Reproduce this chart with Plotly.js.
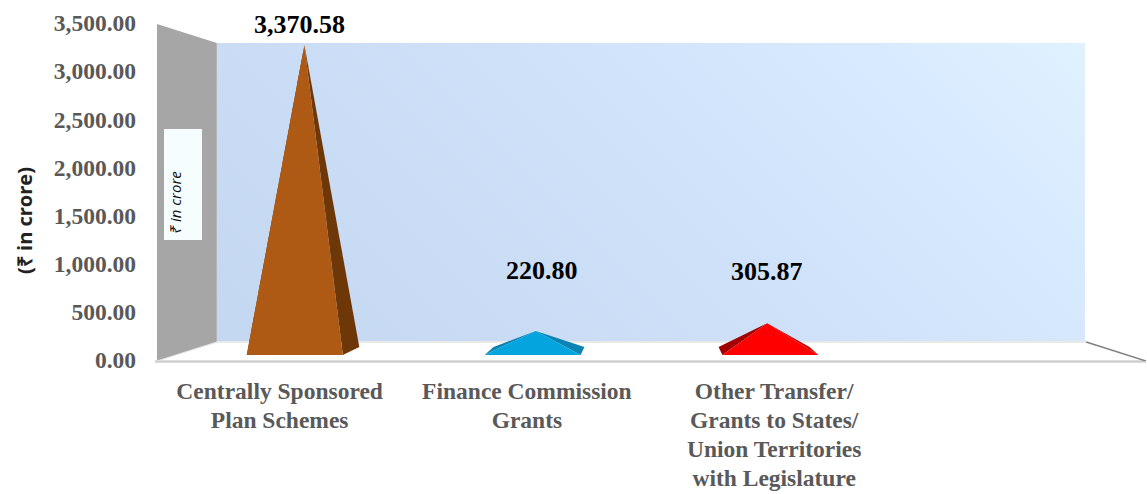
<!DOCTYPE html>
<html><head><meta charset="utf-8">
<script src="https://cdn.plot.ly/plotly-3.0.1.min.js"></script>
<style>html,body{margin:0;padding:0;background:#fff}#c{width:1147px;height:494px}</style>
</head><body><div id="c"></div>
<script>
// ---- data ----
const categories = ['Centrally Sponsored<br>Plan Schemes', 'Finance Commission<br>Grants', 'Other Transfer/<br>Grants to States/<br>Union Territories<br>with Legislature'];
const values = [3370.58, 220.80, 305.87];
const yTicks = [0, 500, 1000, 1500, 2000, 2500, 3000, 3500];
// ---- styles ----
const frontColors = ['#ae5a14', '#04a5df', '#fe0000'];
const leftColors  = ['#6e3708', '#0b84b3', '#a30000'];
const rightColors = ['#6e3708', '#0b84b3', '#c80000'];
const labelOffsetPx = [[-4.5, 21], [6, 60], [-0.5, 52]];

// ---- oblique projection of the 3D box onto the front plane ----
const W = 1147, H = 494, L = 157, R = 1, T = 24, B = 133;
const pxPerX = (W - L - R) / 4, pxPerY = (H - T - B) / 3500;
const SHRINK = 0.121, FLOOR_RISE = 19 / pxPerY, HEIGHT_K = 0.9426, CX = 1.5;
const proj = (u, d, h) => [CX + (u - CX) * (1 - SHRINK * d), d * FLOOR_RISE + h * HEIGHT_K];
const BASE_HALF = 0.202, D_FRONT = 0.316, D_REAR = 0.74, D_APEX = 0.53;

const traces = [];
function face(pts, color, name) {
  traces.push({type: 'scatter', mode: 'lines', x: pts.map(p => p[0]).concat(pts[0][0]), y: pts.map(p => p[1]).concat(pts[0][1]),
    fill: 'toself', fillcolor: color, line: {width: 0, color: color}, hoverinfo: 'skip', showlegend: false, name: name});
}
values.forEach((v, i) => {
  const apex = proj(i, D_APEX, v);
  const fl = proj(i - BASE_HALF, D_FRONT, 0), fr = proj(i + BASE_HALF, D_FRONT, 0);
  const rl = proj(i - BASE_HALF, D_REAR, 0), rr = proj(i + BASE_HALF, D_REAR, 0);
  face([fl, rl, apex], leftColors[i], 'left');
  face([fr, rr, apex], rightColors[i], 'right');
  face([fl, fr, apex], frontColors[i], 'front');
});

// ---- box: walls and floor ----
const lx = -0.5, rx = 3.5;
const toPath = pts => 'M' + pts.map(p => p[0] + ',' + p[1]).join('L') + 'Z';
const blf = proj(lx, 0, 0), blb = proj(lx, 1, 0), tlf = [lx, 3500], tlb = [proj(lx, 1, 0)[0], (H - B - 43) / pxPerY];
const brb = proj(rx, 1, 0), brf = proj(rx, 0, 0);
const paperX = px => (px - L) / (W - L - R), paperY = py => 1 - (py - T) / (H - T - B);
const shapes = [
  {type: 'path', layer: 'below', path: toPath([blf, tlf, tlb, blb]), fillcolor: '#a6a6a6', line: {width: 0}},
  {type: 'line', layer: 'below', x0: blf[0], y0: blf[1], x1: blb[0], y1: blb[1], line: {color: '#e4e4e4', width: 1}},
  {type: 'line', layer: 'below', x0: blb[0], y0: blb[1], x1: brb[0], y1: brb[1], line: {color: '#e2e2e2', width: 1.5}},
  {type: 'line', layer: 'below', x0: brb[0], y0: brb[1], x1: brf[0], y1: brf[1], line: {color: '#808080', width: 1.5}},
  {type: 'line', layer: 'below', xref: 'paper', yref: 'paper', x0: paperX(155), y0: paperY(361.5), x1: paperX(1146), y1: paperY(361.5), line: {color: '#cfcfcf', width: 2.5}},
  // text box on the side wall
  {type: 'rect', layer: 'above', xref: 'paper', yref: 'paper', x0: paperX(164), x1: paperX(202),
    y0: paperY(240), y1: paperY(129), fillcolor: '#f6fdff', line: {width: 0}}
];

// back-wall gradient
const cv = document.createElement('canvas'); cv.width = 868; cv.height = 298;
const g = cv.getContext('2d');
const gr = g.createLinearGradient(142, 440, 726, -142);
gr.addColorStop(0, '#c4d7f0'); gr.addColorStop(0.5, '#cee1f9'); gr.addColorStop(0.75, '#d5e8fd'); gr.addColorStop(1, '#e0f1ff');
g.fillStyle = gr; g.fillRect(0, 0, 868, 298);
const images = [{source: cv.toDataURL('image/png'), xref: 'x', yref: 'y', layer: 'below',
  x: lx + (217 - L) / pxPerX, y: (H - B - 43) / pxPerY, sizex: 868 / pxPerX, sizey: 298 / pxPerY,
  xanchor: 'left', yanchor: 'top', sizing: 'stretch'}];

const fmt = v => v.toLocaleString('en-US', {minimumFractionDigits: 2, maximumFractionDigits: 2});
const annotations = values.map((v, i) => {
  const a = proj(i, D_APEX, v);
  return {x: a[0], y: a[1], xref: 'x', yref: 'y', text: '<b>' + fmt(v) + '</b>', showarrow: false,
    xshift: labelOffsetPx[i][0], yshift: labelOffsetPx[i][1] , font: {family: '"Liberation Serif"', size: 26, color: '#000'}};
});
annotations.push({xref: 'paper', yref: 'paper', x: paperX(175), y: paperY(203), xanchor: 'center', yanchor: 'middle', textangle: -90,
  showarrow: false, text: '<i>₹ in crore</i>', font: {family: '"Open Sans"', size: 15, color: '#111'}});

const serif = {family: '"Liberation Serif"', size: 23.5, color: '#595959', weight: 700};
const layout = {
  width: W, height: H, margin: {l: L, r: R, t: T, b: B, pad: 0}, paper_bgcolor: '#fff', plot_bgcolor: 'rgba(0,0,0,0)', showlegend: false,
  xaxis: {range: [lx, rx], tickmode: 'array', tickvals: categories.map((c, i) => i - 0.004), ticktext: categories.map(c => c), showgrid: false, zeroline: false,
    showline: false, ticks: '', ticklabelstandoff: 13, tickangle: 0, tickfont: serif, fixedrange: true},
  yaxis: {range: [0, 3500], tickmode: 'array', tickvals: yTicks, ticktext: yTicks.map(fmt), showgrid: false, zeroline: false, showline: false,
    ticks: '', ticklabelstandoff: 20, tickfont: serif, fixedrange: true,
    title: {text: '(₹ in crore)', standoff: 15, font: {family: '"Open Sans"', size: 20, color: '#222', weight: 700}}},
  shapes, images, annotations
};
Plotly.newPlot('c', traces, layout, {displayModeBar: false, staticPlot: true}).then(() => {
  // reference uses tighter line spacing for category labels, and its axis title sits below the axis centre
  document.querySelectorAll('#c .xtick text').forEach(t => {
    t.querySelectorAll('tspan.line').forEach((s, i) => s.setAttribute('dy', (i * 1.245) + 'em'));
  });
  document.querySelectorAll('#c .ytick text').forEach(t => {
    t.setAttribute('transform', 'translate(0,-1) ' + (t.getAttribute('transform') || ''));
  });
  const yt = document.querySelector('#c .ytitle');
  if (yt) yt.setAttribute('transform', 'translate(0,28) ' + (yt.getAttribute('transform') || ''));
});
</script></body></html>
